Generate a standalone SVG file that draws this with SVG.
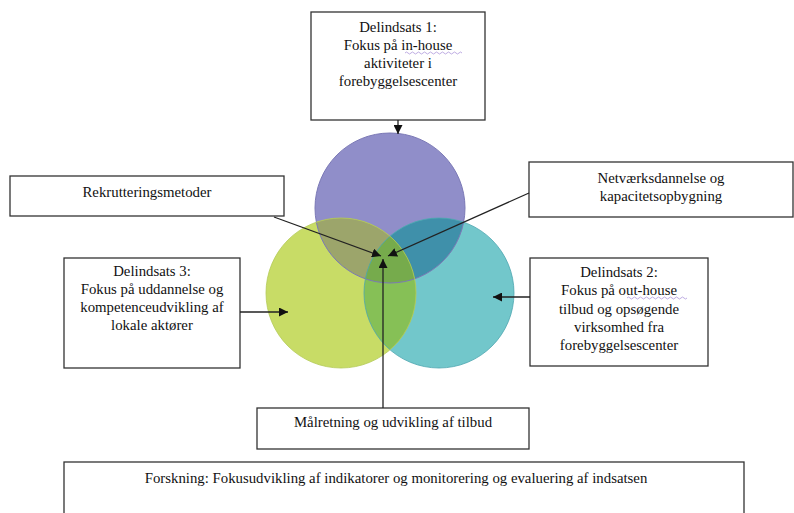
<svg xmlns="http://www.w3.org/2000/svg" width="794" height="513" viewBox="0 0 794 513">
<style>
.box{fill:#fff;stroke:#333;stroke-width:1.3}
text{font-family:"Liberation Serif","Times New Roman",serif;font-size:14.8px;fill:#111;text-anchor:middle}
.con{stroke:#222;stroke-width:1.3;fill:none;marker-end:url(#ah)}
.sq{fill:none;stroke:#a48ad6;stroke-width:0.7}
</style>
<defs>
<marker id="ah" viewBox="0 0 10 10" refX="10" refY="5" markerWidth="9" markerHeight="9" markerUnits="userSpaceOnUse" orient="auto">
<path d="M0,0 L10,5 L0,10 z" fill="#111"/>
</marker>
<clipPath id="cP"><circle cx="390" cy="208" r="75"/></clipPath>
<clipPath id="cG"><circle cx="341" cy="293" r="75"/></clipPath>
<clipPath id="cT"><circle cx="439" cy="293" r="75"/></clipPath>
</defs>
<rect width="794" height="513" fill="#fff"/>
<g id="venn">
<circle cx="390" cy="208" r="75" fill="#908ec9"/>
<circle cx="439" cy="293" r="75" fill="#72c7cb"/>
<circle cx="341" cy="293" r="75" fill="#c8dc66"/>
<g clip-path="url(#cP)">
<circle cx="341" cy="293" r="75" fill="#9ca56b"/>
<circle cx="439" cy="293" r="75" fill="#3f90aa"/>
</g>
<g clip-path="url(#cG)">
<circle cx="439" cy="293" r="75" fill="#86c056"/>
<g clip-path="url(#cP)"><circle cx="439" cy="293" r="75" fill="#76ab4c"/></g>
</g>
<circle cx="390" cy="208" r="75" fill="none" stroke="#7b79b6" stroke-width="1"/>
<circle cx="439" cy="293" r="75" fill="none" stroke="#4ea6b0" stroke-width="1" opacity="0.8"/>
<circle cx="341" cy="293" r="75" fill="none" stroke="#b4cb57" stroke-width="1" opacity="0.8"/>
</g>
<g id="n1">
<rect class="box" x="311" y="12" width="174" height="108"/>
<text x="398" y="32">Delindsats 1:</text>
<text x="398" y="50">Fokus på in-house</text>
<text x="398" y="68">aktiviteter i</text>
<text x="398" y="86">forebyggelsescenter</text>
<path class="sq" d="M405,53 q1.5,-2 3,0 t3,0 t3,0 t3,0 t3,0 t3,0 t3,0 t3,0 t3,0 t3,0 t3,0 t3,0 t3,0 t3,0 t3,0 t3,0 t3,0 t3,0 t3,0"/>
</g>
<g id="n_rekr">
<rect class="box" x="10" y="176" width="274" height="40"/>
<text x="147" y="197">Rekrutteringsmetoder</text>
</g>
<g id="n_netv">
<rect class="box" x="529" y="162" width="264" height="55"/>
<text x="661" y="183">Netværksdannelse og</text>
<text x="661" y="201">kapacitetsopbygning</text>
</g>
<g id="n3">
<rect class="box" x="64" y="258" width="176" height="110"/>
<text x="152" y="276">Delindsats 3:</text>
<text x="152" y="294">Fokus på uddannelse og</text>
<text x="152" y="312">kompetenceudvikling af</text>
<text x="152" y="330">lokale aktører</text>
</g>
<g id="n2">
<rect class="box" x="530" y="258" width="178" height="108"/>
<text x="619" y="277">Delindsats 2:</text>
<text x="619" y="295">Fokus på out-house</text>
<text x="619" y="314">tilbud og opsøgende</text>
<text x="619" y="332">virksomhed fra</text>
<text x="619" y="350">forebyggelsescenter</text>
<path class="sq" d="M627,298 q1.5,-2 3,0 t3,0 t3,0 t3,0 t3,0 t3,0 t3,0 t3,0 t3,0 t3,0 t3,0 t3,0 t3,0 t3,0 t3,0 t3,0 t3,0 t3,0 t3,0 t3,0"/>
</g>
<g id="n_maal">
<rect class="box" x="257" y="408" width="272" height="41"/>
<text x="393" y="427">Målretning og udvikling af tilbud</text>
</g>
<g id="n_forsk">
<rect class="box" x="64" y="462" width="680" height="60"/>
<text x="396" y="483">Forskning: Fokusudvikling af indikatorer og monitorering og evaluering af indsatsen</text>
</g>
<g id="connectors">
<line class="con" x1="398" y1="120" x2="398" y2="134"/>
<line class="con" x1="274" y1="217" x2="381" y2="256"/>
<line class="con" x1="529" y1="193" x2="388" y2="256"/>
<line class="con" x1="383" y1="408" x2="383" y2="259"/>
<line class="con" x1="240" y1="312" x2="288" y2="312"/>
<line class="con" x1="530" y1="297" x2="493" y2="297"/>
</g>
</svg>
